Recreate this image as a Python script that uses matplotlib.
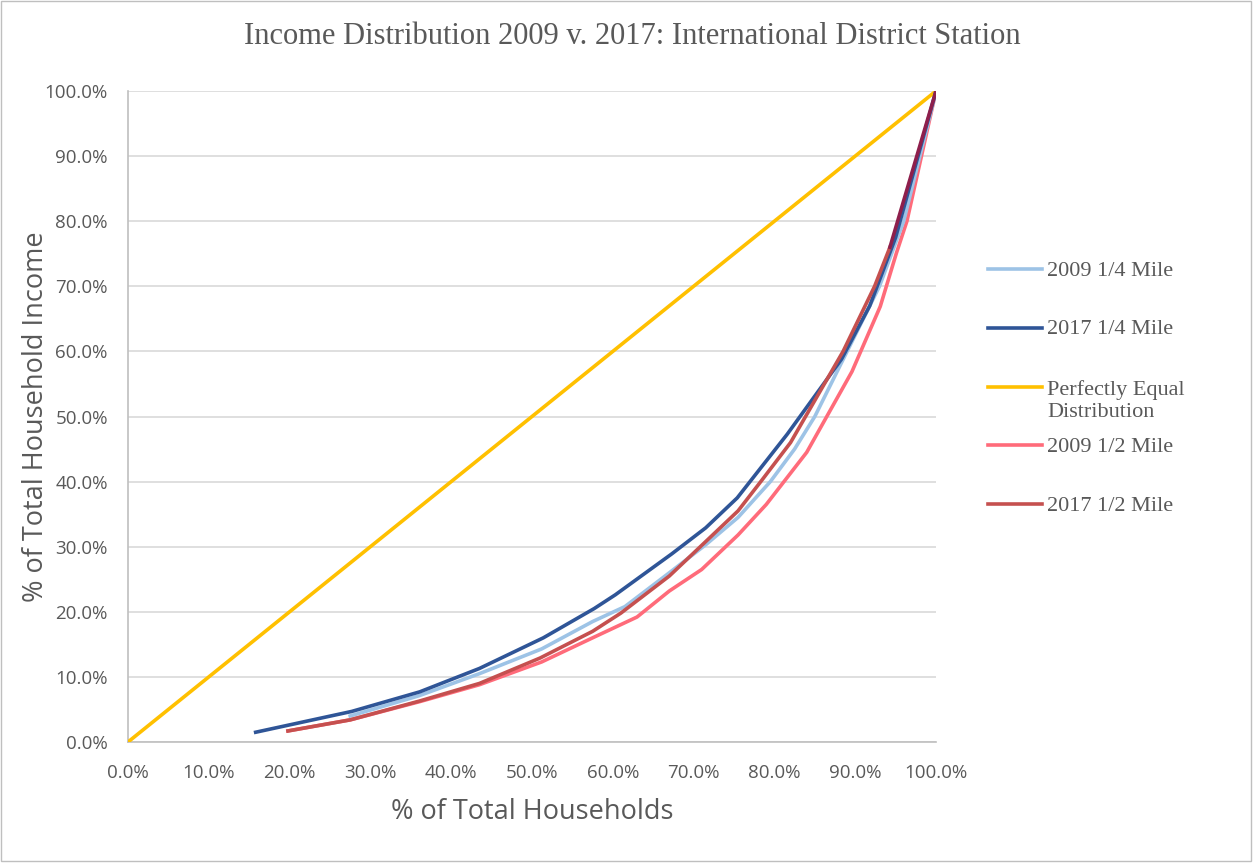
import matplotlib
matplotlib.use("Agg")
import matplotlib.pyplot as plt
from matplotlib.lines import Line2D
from matplotlib.patches import Rectangle
from matplotlib.ticker import FuncFormatter

# ---- data (percent) ----
equal_x = [0, 100]
equal_y = [0, 100]

q09_x = [27.5, 36.0, 43.5, 51.2, 57.5, 61.5, 67.0, 71.5, 75.5, 79.5, 82.5, 85.0, 89.0, 93.0, 96.0, 100]
q09_y = [4.0, 7.1, 10.5, 14.3, 18.5, 20.8, 26.0, 30.3, 34.5, 40.0, 45.0, 50.0, 60.0, 70.0, 80.0, 100]

q17_x = [15.8, 27.7, 36.1, 43.5, 51.4, 57.7, 60.3, 67.3, 71.5, 75.4, 81.6, 88.3, 91.8, 95.0, 100]
q17_y = [1.5, 4.7, 7.7, 11.3, 16.0, 20.5, 22.6, 28.9, 32.9, 37.5, 47.3, 58.8, 67.0, 77.5, 100]

h09_x = [19.8, 27.5, 36.1, 43.5, 51.2, 57.5, 63.0, 67.0, 71.0, 75.5, 79.0, 84.0, 89.6, 93.1, 95.1, 96.4, 100]
h09_y = [1.7, 3.4, 6.2, 8.8, 12.3, 16.0, 19.2, 23.2, 26.5, 31.8, 36.5, 44.5, 56.9, 66.9, 75.1, 80.0, 100]

h17_x = [19.8, 27.5, 36.1, 43.5, 51.0, 57.5, 61.0, 67.0, 71.0, 75.5, 78.5, 82.0, 88.5, 92.4, 94.3]
h17_y = [1.7, 3.4, 6.3, 9.0, 12.9, 17.0, 19.8, 25.5, 30.2, 35.5, 40.3, 46.0, 60.0, 70.0, 76.0]

h17_top_x = [94.3, 100]
h17_top_y = [76.0, 100]

labels = ["2009 1/4 Mile", "2017 1/4 Mile", "Perfectly Equal\nDistribution",
          "2009 1/2 Mile", "2017 1/2 Mile"]
ticks = list(range(0, 101, 10))

# ---- figure ----
W, H = 1257, 865
fig = plt.figure(figsize=(W / 100, H / 100), dpi=100)
ax = fig.add_axes([128 / W, 1 - 742 / H, (936 - 128) / W, (742 - 91) / H])

gray = "#595959"
lw = 2.6
c_q09 = "#9DC3E6"
c_q17 = "#2F5597"
c_eq = "#FFC000"
c_h09 = "#FF6B7A"
c_h17 = "#C5504F"
c_top = "#8E1F4C"
colors = [c_q09, c_q17, c_eq, c_h09, c_h17]

ax.plot(equal_x, equal_y, color=c_eq, lw=lw, solid_capstyle="butt", zorder=3)
ax.plot(h09_x, h09_y, color=c_h09, lw=lw, zorder=3)
ax.plot(q09_x, q09_y, color=c_q09, lw=lw, zorder=4)
ax.plot(q17_x, q17_y, color=c_q17, lw=lw, zorder=5)
ax.plot(h17_x, h17_y, color=c_h17, lw=lw, zorder=6)
ax.plot(h17_top_x, h17_top_y, color=c_top, lw=lw, zorder=7)

ax.set_xlim(0, 100)
ax.set_ylim(0, 100)
ax.set_xticks(ticks)
ax.set_yticks(ticks)
fmt = FuncFormatter(lambda v, p: f"{v:.1f}%")
ax.xaxis.set_major_formatter(fmt)
ax.yaxis.set_major_formatter(fmt)
ax.tick_params(length=0, labelsize=13.5, labelcolor=gray)
ax.tick_params(axis="x", pad=16)
ax.tick_params(axis="y", pad=14.5)
for lab in ax.get_xticklabels() + ax.get_yticklabels():
    lab.set_fontfamily("Open Sans")

ax.grid(axis="y", color="#D9D9D9", lw=1.2, zorder=0)
ax.set_axisbelow(True)
for s in ["top", "right"]:
    ax.spines[s].set_visible(False)
for s in ["left", "bottom"]:
    ax.spines[s].set_color("#BFBFBF")
    ax.spines[s].set_linewidth(1.2)

ax.set_xlabel("% of Total Households", fontsize=19.5, color=gray,
              fontfamily="Open Sans")
ax.set_ylabel("% of Total Household Income", fontsize=19.5, color=gray,
              fontfamily="Open Sans")
ax.xaxis.set_label_coords(0.5, (742 - 798) / 651)
ax.yaxis.set_label_coords((50 - 128) / 808, 0.5)

fig.text(632 / W, 1 - 37 / H, "Income Distribution 2009 v. 2017: International District Station",
         ha="center", va="center", fontsize=22, color=gray, fontfamily="Liberation Serif")

# legend (placed entry by entry, as in the reference)
label_y = [271, 330, 401, 447, 506]
handle_y = [269, 328, 387, 445, 504]
for c, lab, ty, hy in zip(colors, labels, label_y, handle_y):
    fig.add_artist(Line2D([988 / W, 1042 / W], [1 - hy / H, 1 - hy / H],
                          transform=fig.transFigure, color=c, lw=lw))
    fig.text(1047 / W, 1 - ty / H, lab, ha="left", va="center", fontsize=16,
             color=gray, fontfamily="Liberation Serif", linespacing=1.2)

# chart border
fig.patches.append(Rectangle((0.5 / W, 1 - 861 / H), 1250 / W, 860 / H,
                             transform=fig.transFigure, fill=False,
                             edgecolor="#BFBFBF", lw=1.0))

fig.savefig("out.png", dpi=100, facecolor="white")
